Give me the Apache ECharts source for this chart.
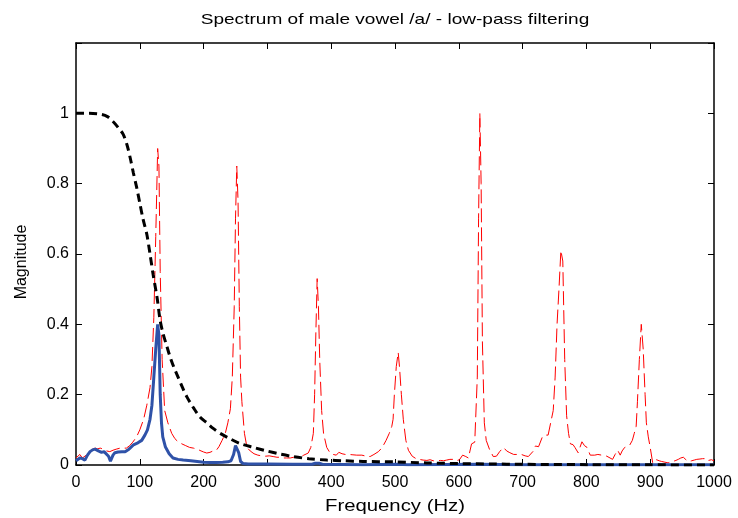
<!DOCTYPE html>
<html>
<head>
<meta charset="utf-8">
<script src="https://cdn.jsdelivr.net/npm/echarts@6/dist/echarts.min.js"></script>
<style>html,body{margin:0;padding:0;background:#fff}#c{width:738px;height:518px}</style>
</head>
<body>
<div id="c"></div>
<script>
// Original spectrum (red)
const redFreq = [0,3,6,10,14,18,22,26,30,34,38,43,48,53,58,63,69,74,79,84,89,95,100,106,111,116,119,122,125,128,130,132,135,139,144,150,155,160,166,172,178,184,190,196,200,205,210,215,220,224,229,234,238,242,245,248,250,252,254,256,258,260,264,268,273,279,285,291,297,303,309,315,320,325,330,336,341,346,351,357,364,368,372,374,376,378,380,382,385,388,393,398,403,408,412,417,422,428,434,440,448,455,461,467,474,480,486,491,495,497,499,502,505,507,510,513,517,521,527,533,538,544,550,555,560,566,571,576,581,586,591,596,601,606,611,615,620,625,627,629,631,633,635,637,640,643,648,654,659,664,670,675,680,686,693,698,704,709,712,717,720,725,728,731,736,740,744,748,751,754,757,760,763,766,769,772,775,779,782,787,793,797,801,806,813,818,824,828,832,837,841,845,849,853,856,860,864,868,872,875,878,880,883,886,889,892,894,897,900,904,907,910,914,918,923,928,934,939,944,948,952,956,960,965,969,973,978,982,986,989,992,996,1000];
const redMag = [0.02,0.025,0.03,0.02,0.025,0.035,0.04,0.045,0.048,0.046,0.048,0.045,0.04,0.038,0.042,0.045,0.048,0.048,0.048,0.055,0.065,0.08,0.1,0.13,0.17,0.22,0.28,0.42,0.65,0.9,0.85,0.55,0.3,0.155,0.12,0.09,0.075,0.066,0.06,0.055,0.05,0.048,0.045,0.04,0.037,0.034,0.036,0.04,0.042,0.052,0.07,0.09,0.12,0.16,0.25,0.45,0.7,0.85,0.75,0.45,0.25,0.18,0.09,0.05,0.04,0.032,0.028,0.026,0.025,0.026,0.024,0.022,0.022,0.02,0.02,0.02,0.022,0.021,0.022,0.028,0.034,0.05,0.09,0.2,0.38,0.53,0.45,0.3,0.155,0.09,0.05,0.035,0.03,0.028,0.036,0.032,0.03,0.03,0.029,0.028,0.028,0.025,0.024,0.03,0.038,0.05,0.07,0.09,0.11,0.13,0.2,0.28,0.32,0.28,0.2,0.13,0.07,0.042,0.025,0.018,0.016,0.014,0.013,0.015,0.012,0.012,0.013,0.012,0.014,0.016,0.016,0.012,0.015,0.028,0.024,0.02,0.06,0.065,0.065,0.25,0.7,1.0,0.8,0.35,0.12,0.07,0.045,0.024,0.025,0.038,0.05,0.04,0.035,0.03,0.03,0.03,0.026,0.024,0.024,0.04,0.054,0.052,0.05,0.08,0.085,0.085,0.12,0.155,0.25,0.4,0.5,0.61,0.58,0.3,0.14,0.09,0.06,0.058,0.05,0.035,0.066,0.055,0.05,0.028,0.028,0.03,0.028,0.027,0.025,0.02,0.016,0.03,0.042,0.028,0.04,0.05,0.053,0.057,0.07,0.09,0.11,0.18,0.3,0.4,0.33,0.2,0.12,0.08,0.05,0.005,0.01,0.015,0.012,0.01,0.008,0.006,0.01,0.012,0.016,0.02,0.022,0.015,0.01,0.012,0.014,0.016,0.017,0.018,0.018,0.012,0.01,0.015,0.012];

// Low-pass filter response (black dashed)
const filtFreq = [0,20,40,50,58,66,74,80,85,90,95,100,105,111,116,121,127,132,137,142,147,153,160,167,174,184,194,205,215,226,241,257,278,299,320,340,365,393,420,450,497,550,600,650,700,800,900,1000];
const filtMag = [1,1,0.997,0.99,0.977,0.96,0.94,0.91,0.873,0.83,0.79,0.745,0.7,0.656,0.6,0.54,0.477,0.41,0.37,0.34,0.31,0.28,0.25,0.22,0.193,0.163,0.137,0.12,0.104,0.09,0.075,0.061,0.05,0.04,0.031,0.024,0.018,0.014,0.012,0.01,0.009,0.006,0.004,0.003,0.002,0.001,0.0005,0];

// Filtered spectrum (blue)
const blueFreq = [0,3,6,10,14,18,22,26,30,35,40,44,47,51,54,58,61,66,72,77,83,90,97,103,108,112,116,119,122,125,128,130,132,134,136,140,146,152,160,168,180,190,200,210,220,230,238,243,247,250,252,255,258,262,270,300,340,370,375,378,381,386,450,505,520,633,700,1000];
const blueMag = [0.012,0.015,0.02,0.018,0.014,0.028,0.038,0.043,0.045,0.04,0.036,0.038,0.04,0.025,0.011,0.028,0.035,0.037,0.038,0.038,0.045,0.057,0.063,0.07,0.085,0.1,0.13,0.17,0.25,0.33,0.4,0.37,0.2,0.12,0.08,0.052,0.032,0.02,0.016,0.014,0.012,0.01,0.008,0.007,0.007,0.008,0.009,0.012,0.03,0.055,0.058,0.035,0.01,0.004,0.003,0.003,0.002,0.002,0.005,0.008,0.005,0.002,0.001,0.002,0.001,0.002,0.001,0.001];

const xTicks = {min: 0, max: 1000, interval: 100};
const yTicks = {min: 0, max: 1.2, interval: 0.2};
const titleText = 'Spectrum of male vowel /a/ - low-pass filtering';
const xName = 'Frequency (Hz)';
const yName = 'Magnitude';

const zip = (a, b) => a.map((v, i) => [v, b[i]]);
const FONT = '"Liberation Sans", Arial, Helvetica, sans-serif';

const chart = echarts.init(document.getElementById('c'), null, {renderer: 'canvas'});
const axisLine = {show: true, onZero: false, lineStyle: {color: '#000', width: 1.5}};
const tick = {show: true, inside: true, length: 6, lineStyle: {color: '#000', width: 1}};
chart.setOption({
  animation: false,
  backgroundColor: '#fff',
  graphic: [
    {type: 'text', x: 395, y: 20, scaleX: 1.27, z: 10,
     style: {text: titleText, font: '15px ' + FONT, fill: '#000', align: 'center', verticalAlign: 'middle'}},
    {type: 'text', x: 395, y: 507, scaleX: 1.27, z: 10,
     style: {text: xName, font: '16px ' + FONT, fill: '#000', align: 'center', verticalAlign: 'middle'}},
    {type: 'text', x: 22, y: 262, rotation: Math.PI / 2, z: 10,
     style: {text: yName, font: '16px ' + FONT, fill: '#000', align: 'center', verticalAlign: 'middle'}}
  ],
  grid: {left: 76, right: 24, top: 43, bottom: 53, containLabel: false},
  xAxis: [
    {type: 'value', position: 'bottom', min: xTicks.min, max: xTicks.max, interval: xTicks.interval,
     axisLine: axisLine, axisTick: tick, splitLine: {show: false},
     axisLabel: {fontFamily: FONT, fontSize: 16, color: '#000', margin: 10, formatter: v => String(v)}},
    {type: 'value', position: 'top', min: xTicks.min, max: xTicks.max, interval: xTicks.interval,
     axisLine: axisLine, axisTick: tick, splitLine: {show: false}, axisLabel: {show: false}}
  ],
  yAxis: [
    {type: 'value', position: 'left', min: yTicks.min, max: yTicks.max, interval: yTicks.interval,
     axisLine: axisLine, axisTick: tick, splitLine: {show: false},
     axisLabel: {fontFamily: FONT, fontSize: 16, color: '#000', margin: 7,
       formatter: v => { const r = Math.round(v * 10) / 10; return r > 1.05 ? '' : String(r); }}},
    {type: 'value', position: 'right', min: yTicks.min, max: yTicks.max, interval: yTicks.interval,
     axisLine: axisLine, axisTick: tick, splitLine: {show: false}, axisLabel: {show: false}}
  ],
  series: [
    {type: 'line', name: 'spectrum', data: zip(redFreq, redMag), showSymbol: false, symbol: 'none',
     lineStyle: {color: '#ff0000', width: 1, type: [14, 5]}, z: 2},
    {type: 'line', name: 'filtered', data: zip(blueFreq, blueMag), showSymbol: false, symbol: 'none',
     lineStyle: {color: '#2f52a8', width: 3}, z: 3},
    {type: 'line', name: 'filter', data: zip(filtFreq, filtMag), showSymbol: false, symbol: 'none', smooth: 0.3,
     lineStyle: {color: '#000', width: 3, type: [8, 5]}, z: 4}
  ]
});
</script>
</body>
</html>
